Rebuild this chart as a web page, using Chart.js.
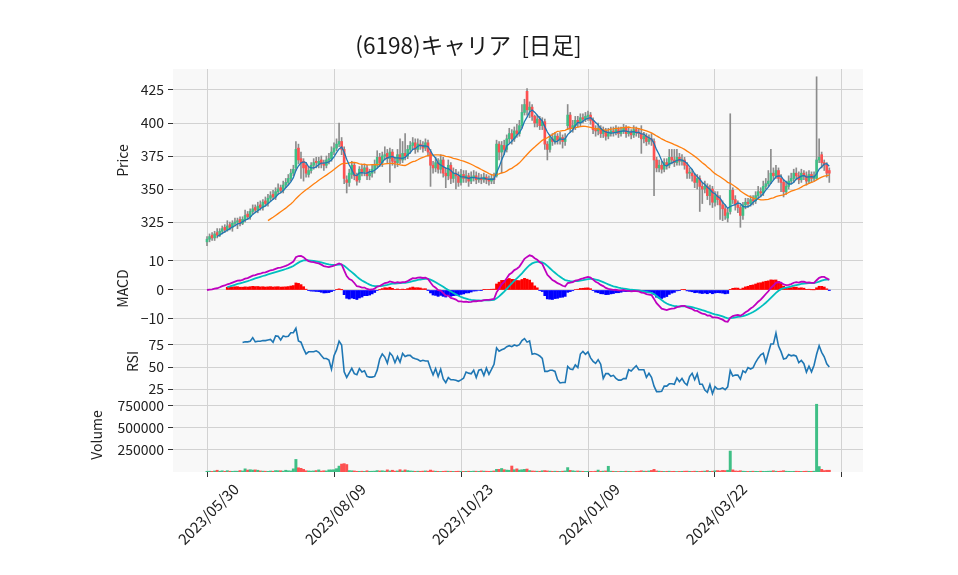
<!DOCTYPE html>
<html><head><meta charset="utf-8">
<script src="https://cdn.jsdelivr.net/npm/chart.js@4.4.1/dist/chart.umd.min.js"></script>
<style>html,body{margin:0;padding:0;background:#fff;}#wrap{width:958px;height:575px;}</style>
</head><body>
<div id="wrap"><canvas id="c" width="958" height="575"></canvas></div>
<script>
const titleText = '(6198)キャリア  [日足]';
const tickPositions = [0, 50, 100, 150, 200, 250];
const tickLabels = ['2023/05/30', '2023/08/09', '2023/10/23', '2024/01/09', '2024/03/22', ''];
const priceTicks = [325, 350, 375, 400, 425];
const macdTicks = [-10, 0, 10];
const rsiTicks = [25, 50, 75];
const volumeTicks = [250000, 500000, 750000];

const opens = [
310,312,315,313,317,315,318,321,319,323,
321,324,325,327,324,327,331,329,333,336,
334,338,336,341,339,343,346,344,348,351,
349,353,355,358,362,366,381,373,371,368,
361,364,368,371,369,372,369,368,372,373,
378,381,384,386,380,357,355,361,368,360,
357,365,363,366,360,362,365,368,374,370,
375,377,373,378,371,370,376,372,377,375,
380,383,385,380,384,383,381,385,378,368,
366,370,365,372,362,360,368,358,362,360,
355,361,358,360,356,359,360,357,358,357,
359,357,356,358,360,384,378,383,380,388,
392,388,394,392,398,408,424,410,412,405,
400,403,398,401,384,380,388,386,390,387,
389,386,398,406,396,398,402,400,404,403,
405,406,402,395,394,396,392,394,390,392,
394,393,395,392,394,396,392,393,391,395,
393,392,388,390,386,388,386,372,366,368,
365,370,368,374,372,370,374,371,372,368,
362,362,360,355,358,352,350,352,345,350,
340,345,342,338,335,328,333,349,342,338,
336,330,338,340,339,342,341,345,348,347,
352,354,356,362,360,364,358,355,348,352,
356,358,362,360,357,362,360,356,361,358,
358,372,376,370,368,364];

const highs = [
314,316,317,318,320,320,322,323,326,325,
326,328,328,329,329,334,333,335,338,338,
340,341,342,344,346,348,349,351,354,353,
356,358,361,365,368,386,384,378,373,370,
367,370,373,374,374,375,372,375,377,382,
385,388,400,389,382,360,365,371,370,362,
367,368,369,368,365,368,372,379,377,378,
382,380,381,380,374,380,388,386,392,383,
386,389,388,388,387,386,388,387,380,371,
374,373,376,374,366,372,370,366,365,363,
365,364,364,362,363,364,363,362,361,362,
361,360,361,362,387,386,386,387,391,396,
395,397,399,402,414,418,426,416,414,406,
406,405,404,403,386,391,392,393,392,393,
391,392,414,408,402,405,405,407,407,408,
409,408,404,398,400,398,397,396,396,397,
397,398,397,397,399,398,396,395,398,397,
396,398,393,392,391,392,388,374,372,371,
373,373,380,380,380,380,377,376,374,370,
366,365,362,361,360,355,356,354,353,352,
348,348,345,341,338,335,407,351,345,341,
338,340,343,343,345,345,348,352,351,356,
358,364,380,366,368,366,361,357,356,360,
362,365,366,363,365,364,363,364,363,363,
435,388,378,372,370,366];

const lows = [
307,310,311,311,313,314,316,317,318,319,
318,322,320,322,323,325,327,327,331,332,
332,334,334,337,337,341,342,342,346,347,
347,351,353,356,360,364,369,358,356,359,
359,362,365,366,366,366,364,366,369,371,
376,379,382,376,354,347,352,358,357,353,
355,360,360,357,357,359,362,366,367,367,
372,370,355,368,366,367,369,370,372,373,
377,380,377,378,380,378,379,375,352,362,
363,362,362,359,351,357,354,355,350,352,
353,355,355,352,354,356,354,355,354,355,
354,353,354,354,359,372,362,376,378,385,
384,386,389,390,396,406,406,404,402,397,
397,395,395,380,372,378,383,384,384,384,
381,383,395,393,393,395,397,398,400,401,
402,399,392,390,391,389,389,387,388,390,
390,391,389,390,392,389,390,388,389,390,
389,377,385,383,384,383,345,363,363,362,
363,365,366,369,367,368,368,368,365,358,
358,356,351,350,333,339,347,342,338,336,
337,338,327,326,327,325,331,339,334,332,
321,327,335,336,337,338,339,343,344,345,
350,352,354,357,358,355,348,344,346,350,
354,355,357,354,355,357,353,354,355,356,
357,370,366,364,359,355];

const closes = [
312,314,313,316,315,318,320,319,322,321,
324,325,326,324,327,330,329,333,335,334,
337,336,340,339,343,345,344,348,350,349,
353,355,358,362,365,380,372,370,366,362,
364,368,370,370,371,369,368,372,373,378,
381,384,386,380,358,355,362,368,360,356,
365,363,366,360,362,365,368,374,370,375,
376,373,378,371,370,376,372,377,375,380,
383,385,380,384,383,381,385,378,368,366,
370,365,372,362,360,368,358,362,360,355,
361,358,360,356,359,360,357,358,357,359,
357,356,358,357,384,378,383,380,388,392,
388,394,392,398,408,414,410,412,405,400,
403,398,401,384,380,388,386,390,387,389,
386,388,406,396,398,402,400,404,403,405,
406,402,395,394,396,392,394,390,392,394,
393,395,392,394,396,392,393,391,395,393,
392,388,390,386,388,387,372,366,368,365,
370,368,374,372,370,374,371,372,368,362,
362,360,355,358,352,350,352,345,350,340,
345,342,338,335,330,332,349,342,338,336,
330,338,340,339,342,341,345,348,347,352,
354,356,362,360,364,358,355,348,352,356,
358,362,360,357,362,360,356,361,358,360,
372,374,370,368,362,362];

const volumes = [
8000,9000,7000,12000,20000,9000,14000,8000,15000,9000,
8000,10000,9000,16000,12000,36000,22000,26000,22000,24000,
20000,12000,10000,9000,8000,11000,9000,16000,15000,14000,
10000,20000,14000,12000,36000,143000,48000,42000,30000,14000,
12000,10000,12000,16000,24000,10000,14000,12000,24000,24000,
26000,38000,67000,90000,95000,85000,16000,14000,12000,8000,
8000,9000,7000,14000,8000,9000,10000,16000,12000,14000,
10000,24000,12000,20000,10000,12000,26000,12000,24000,16000,
12000,10000,8000,9000,8000,10000,12000,10000,22000,12000,
9000,8000,7000,8000,10000,9000,8000,7000,8000,9000,
8000,7000,8000,9000,8000,10000,9000,8000,12000,10000,
9000,8000,9000,12000,30000,30000,40000,26000,22000,20000,
68000,26000,36000,22000,26000,30000,34000,16000,12000,10000,
9000,8000,14000,16000,12000,10000,8000,9000,8000,7000,
9000,12000,50000,18000,14000,10000,12000,9000,8000,7000,
8000,7000,6000,9000,22000,8000,10000,12000,65000,9000,
8000,7000,6000,8000,7000,9000,8000,7000,6000,8000,
9000,14000,10000,9000,12000,18000,30000,12000,10000,8000,
7000,8000,9000,7000,8000,6000,7000,8000,9000,10000,
8000,7000,9000,8000,7000,9000,10000,16000,8000,9000,
14000,16000,12000,18000,16000,20000,238000,24000,12000,10000,
14000,9000,8000,7000,8000,9000,8000,7000,9000,8000,
8000,9000,10000,14000,9000,8000,10000,15000,9000,8000,
7000,8000,9000,8000,7000,8000,9000,8000,7000,9000,
770000,62000,30000,16000,20000,20000];

// ---- indicators derived from the closes (as in the original chart) ----
function sma(arr, n) {
  return arr.map((_, i) => i < n - 1 ? null : arr.slice(i - n + 1, i + 1).reduce((a, b) => a + b, 0) / n);
}
function ema(arr, span) {
  const a = 2 / (span + 1); const out = [];
  arr.forEach((v, i) => out.push(i === 0 ? v : a * v + (1 - a) * out[i - 1]));
  return out;
}
const ma5 = sma(closes, 5);
const ma25 = sma(closes, 25);
const e12 = ema(closes, 12), e26 = ema(closes, 26);
const macd = e12.map((v, i) => v - e26[i]);
const sigFull = ema(macd, 9);
const signal = sigFull.map((v, i) => i < 8 ? null : v);
const hist = macd.map((v, i) => i < 8 ? null : v - sigFull[i]);
const rsi = closes.map((_, i) => {
  if (i < 14) return null;
  let g = 0, l = 0;
  for (let j = i - 13; j <= i; j++) { const d = closes[j] - closes[j - 1]; if (d > 0) g += d; else l -= d; }
  return l === 0 ? 100 : 100 - 100 / (1 + g / l);
});

const UP = '#3fbf86', DOWN = '#fd5151', WICK = '#8c8c8c';
const isUp = closes.map((c, i) => c >= opens[i]);
const line = arr => arr.map((v, i) => ({x: i, y: v})).filter(p => p.y !== null);
const FONT = '"Noto Sans CJK JP", "Noto Sans", sans-serif';
const tickFont = {family: FONT, size: 14};
const xTickFont = {family: FONT, size: 15};
const titleFont = {family: FONT, size: 14};
const fmt = v => String(v).replace('-', '\u2212');

const bgPlugin = {
  id: 'bgPlugin',
  beforeDraw(chart) {
    const {ctx, chartArea: a} = chart;
    ctx.save();
    ctx.fillStyle = '#f8f8f8';
    ctx.fillRect(a.left, a.top, a.right - a.left, a.bottom - a.top);
    ctx.restore();
  },
  afterDraw(chart) {
    const ctx = chart.ctx;
    ctx.save();
    ctx.font = '22.6px ' + FONT;
    ctx.fillStyle = '#1a1a1a';
    ctx.textAlign = 'center';
    ctx.textBaseline = 'middle';
    ctx.fillText(titleText, 468.5, 45);
    ctx.restore();
  }
};

function yAxis(opts) {
  return Object.assign({
    type: 'linear', position: 'left', stack: 'panels',
    afterFit: s => { s.width = 173; },
    ticks: {font: tickFont, color: '#222', padding: 4, callback: fmt},
    grid: {color: '#d2d2d2', lineWidth: 1, tickLength: 5, tickColor: '#333', offset: false},
    border: {display: false}
  }, opts);
}

const ctx = document.getElementById('c').getContext('2d');
new Chart(ctx, {
  type: 'bar',
  data: {
    datasets: [
      {type: 'line', label: 'MA5', data: line(ma5), yAxisID: 'yP', borderColor: '#1f77b4', borderWidth: 1.3, pointRadius: 0, order: 0},
      {type: 'line', label: 'MA25', data: line(ma25), yAxisID: 'yP', borderColor: '#ff7f0e', borderWidth: 1.3, pointRadius: 0, order: 1},
      {type: 'bar', label: 'body', data: closes.map((c, i) => ({x: i, y: [opens[i], c]})), yAxisID: 'yP',
        backgroundColor: isUp.map(u => u ? UP : DOWN), barThickness: 2, grouped: false, minBarLength: 1, order: 2},
      {type: 'bar', label: 'wick', data: closes.map((c, i) => ({x: i, y: [lows[i], highs[i]]})), yAxisID: 'yP',
        backgroundColor: WICK, barThickness: 1, grouped: false, order: 3},
      {type: 'line', label: 'MACD', data: line(macd), yAxisID: 'yM', borderColor: '#bf00bf', borderWidth: 1.8, pointRadius: 0, order: 0},
      {type: 'line', label: 'Signal', data: line(signal), yAxisID: 'yM', borderColor: '#00bfbf', borderWidth: 1.8, pointRadius: 0, order: 1},
      {type: 'bar', label: 'Hist', data: hist.map((v, i) => ({x: i, y: v})).filter(p => p.y !== null), yAxisID: 'yM',
        backgroundColor: hist.filter(v => v !== null).map(v => v >= 0 ? '#ff0000' : '#0000ff'), barThickness: 2.2, grouped: false, order: 2},
      {type: 'line', label: 'RSI', data: line(rsi), yAxisID: 'yR', borderColor: '#1f77b4', borderWidth: 1.6, pointRadius: 0, order: 0},
      {type: 'bar', label: 'Volume', data: volumes.map((v, i) => ({x: i, y: v})), yAxisID: 'yV',
        backgroundColor: isUp.map(u => u ? UP : DOWN), barThickness: 2.3, grouped: false, order: 0}
    ]
  },
  options: {
    responsive: false, animation: false, devicePixelRatio: 1,
    layout: {padding: {top: 69, right: 95, bottom: 0, left: 0}},
    plugins: {legend: {display: false}, tooltip: {enabled: false}, title: {display: false}},
    elements: {line: {tension: 0}, bar: {borderWidth: 0}},
    scales: {
      x: {
        type: 'linear', position: 'bottom', min: -13.39, max: 258.27, offset: false,
        afterBuildTicks: s => { s.ticks = tickPositions.map(v => ({value: v})); },
        afterFit: s => { s.height = 103; },
        ticks: {autoSkip: false, minRotation: 45, maxRotation: 45, labelOffset: 29, padding: 3,
          font: xTickFont, color: '#222', callback: v => tickLabels[tickPositions.indexOf(v)]},
        grid: {color: '#d2d2d2', lineWidth: 1, tickLength: 5, tickColor: '#333', offset: false},
        border: {display: false}
      },
      yP: yAxis({weight: 4, stackWeight: 183, min: 302.3, max: 440.9,
        afterBuildTicks: s => { s.ticks = priceTicks.map(v => ({value: v})); },
        title: {display: true, text: 'Price', font: titleFont, color: '#222', padding: {top: 114, bottom: 0}}}),
      yM: yAxis({weight: 3, stackWeight: 73, min: -12.07, max: 13.1,
        afterBuildTicks: s => { s.ticks = macdTicks.map(v => ({value: v})); },
        title: {display: true, text: 'MACD', font: titleFont, color: '#222', padding: {top: 114, bottom: 0}}}),
      yR: yAxis({weight: 2, stackWeight: 73, min: 14.8, max: 97.7,
        afterBuildTicks: s => { s.ticks = rsiTicks.map(v => ({value: v})); },
        title: {display: true, text: 'RSI', font: titleFont, color: '#222', padding: {top: 124, bottom: 0}}}),
      yV: yAxis({weight: 1, stackWeight: 74, min: 0, max: 840909,
        afterBuildTicks: s => { s.ticks = volumeTicks.map(v => ({value: v})); },
        title: {display: true, text: 'Volume', font: titleFont, color: '#222', padding: {top: 88, bottom: 0}}})
    }
  },
  plugins: [bgPlugin]
});
</script>
</body></html>
